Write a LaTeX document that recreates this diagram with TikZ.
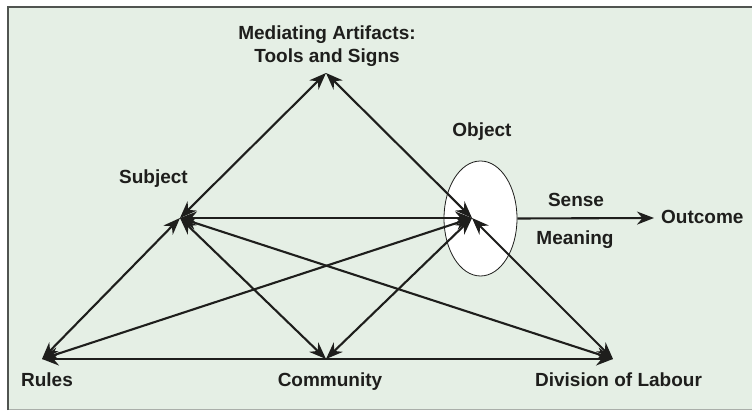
\documentclass[tikz,border=0pt]{standalone}
\usepackage{fontspec}
\setmainfont{Liberation Sans}
\usetikzlibrary{arrows.meta,shapes.geometric}
\definecolor{bg}{RGB}{229,239,229}
\definecolor{ink}{RGB}{30,30,28}
\definecolor{frame}{RGB}{80,84,80}
\definecolor{framelight}{RGB}{170,175,170}
\tikzset{
  lbl/.style={anchor=base, inner sep=0pt, text=ink, font=\fontsize{19}{23}\selectfont\bfseries, align=center},
  conn/.style={line width=2.1pt, draw=ink, {Stealth[length=17pt,width=13pt,inset=5.5pt]}-{Stealth[length=17pt,width=13pt,inset=5.5pt]}},
  oneway/.style={line width=2.1pt, draw=ink, -{Stealth[length=17pt,width=13pt,inset=5.5pt]}},
}
\begin{document}
\begin{tikzpicture}[x=1pt,y=-1pt]
\useasboundingbox (0,0) rectangle (752,411);
% panel
\fill[bg] (7,6) rectangle (752,410);
\draw[framelight, line width=1pt] (7,409.5) -- (752,409.5);
\draw[frame, line width=2pt] (8,410) -- (8,7) -- (752,7);
% points
\coordinate (A) at (326,73);
\coordinate (S) at (180,218);
\coordinate (O) at (472,218);
\coordinate (R) at (42,359);
\coordinate (C) at (326,359);
\coordinate (D) at (613,359);
\coordinate (Out) at (654,218);
% object ellipse
\node[ellipse, draw=ink, fill=white, line width=0.8pt, minimum width=73pt, minimum height=115pt, inner sep=0pt] (E) at (480.5,218.5) {};
% connectors
\draw[conn] (A) -- (S);
\draw[conn] (A) -- (O);
\draw[conn] (S) -- (O);
\draw[conn] (S) -- (R);
\draw[conn] (S) -- (C);
\draw[conn] (S) -- (D);
\draw[conn] (O) -- (R);
\draw[conn] (O) -- (C);
\draw[conn] (O) -- (D);
\draw[conn] (R) -- (D);
\draw[oneway] (E.east) -- (Out);
% labels
\node[lbl] (tMed) at (327,39.5) {Mediating Artifacts:};
\node[lbl] (tTools) at (327,62.5) {Tools and Signs};
\node[lbl] (tObj) at (482,136.5) {Object};
\node[lbl] (tSub) at (153.5,183.5) {Subject};
\node[lbl] (tSense) at (576,206.5) {Sense};
\node[lbl] (tMean) at (575,244.5) {Meaning};
\node[lbl, anchor=base west] (tOut) at (661,223.5) {Outcome};
\node[lbl] (tRules) at (47,386.5) {Rules};
\node[lbl] (tCom) at (330,386.5) {Community};
\node[lbl] (tDiv) at (618.5,386.5) {Division of Labour};
\end{tikzpicture}
\end{document}
